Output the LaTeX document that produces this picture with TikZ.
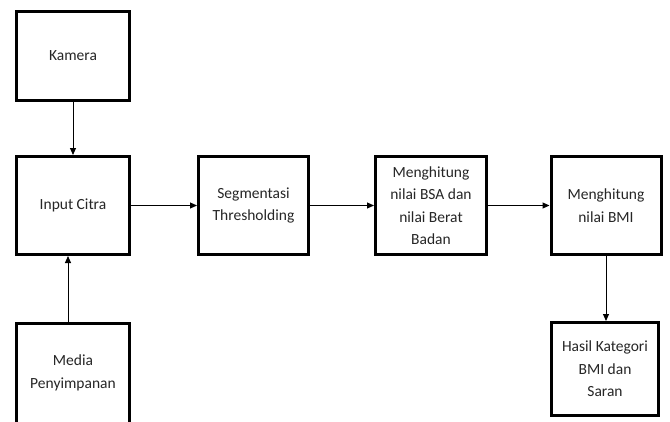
\documentclass[tikz,border=0pt]{standalone}
\usepackage{fontspec}
\setmainfont{Carlito}
\usetikzlibrary{positioning, arrows.meta, calc}
\tikzset{
  blok/.style={rectangle, draw=black, line width=3pt, fill=white, text centered, align=center,
    font=\fontsize{15.5}{22.5}\selectfont, text=black!85},
  panah/.style={line width=1pt, -{Triangle[length=7pt,width=6pt]}}
}

\begin{document}
\begin{tikzpicture}[x=1pt, y=-1pt]
        % Bidang gambar sesuai ukuran referensi
        \useasboundingbox (0,0) rectangle (670,421);
        \clip (0,0) rectangle (670,421);

        % Blok-blok diagram
        \node (kamera) [blok, minimum width=113pt, minimum height=89pt] at (73,56) {Kamera};
        \node (input) [blok, minimum width=113pt, minimum height=98pt] at (73,205.5) {Input Citra};
        \node (media) [blok, minimum width=113pt, minimum height=100pt] at (73,373) {Media\\Penyimpanan};
        \node (segmen) [blok, minimum width=110pt, minimum height=98pt] at (253.5,205.5) {Segmentasi\\Thresholding};
        \node (bsa) [blok, minimum width=111pt, minimum height=98pt] at (431,205.5) {Menghitung\\nilai BSA dan\\nilai Berat\\Badan};
        \node (bmi) [blok, minimum width=110pt, minimum height=98pt] at (606,205.5) {Menghitung\\nilai BMI};
        \node (hasil) [blok, minimum width=107pt, minimum height=93pt] at (605,369) {Hasil Kategori\\BMI dan\\Saran};

        % Panah penghubung
        \draw [panah] (kamera) -- (input);
        \draw [panah] ([xshift=-5pt]media.north) -- ([xshift=-5pt]input.south);
        \draw [panah] (input) -- (segmen);
        \draw [panah] (segmen) -- (bsa);
        \draw [panah] (bsa) -- (bmi);
        \draw [panah] (bmi) -- (bmi |- hasil.north);
    \end{tikzpicture}
\end{document}
